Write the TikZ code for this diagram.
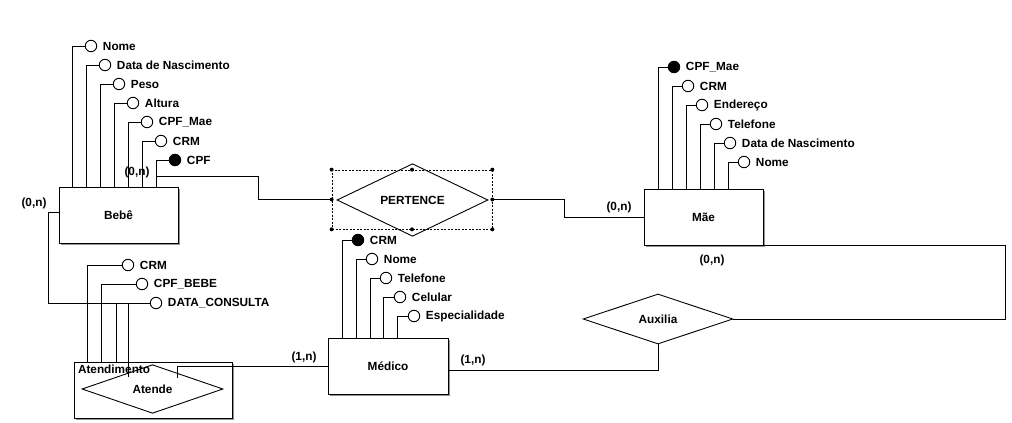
\documentclass[tikz,border=0pt]{standalone}
\usepackage{fontspec}
\setmainfont{Liberation Sans}
\usetikzlibrary{positioning,shapes.geometric,shadows}

\begin{document}
\begin{tikzpicture}[x=1pt,y=-1pt,line width=0.9pt,on grid,
  font=\fontsize{11.8}{13}\selectfont\bfseries,
  label distance=2pt,
  myentity/.style={draw,rectangle,fill=white,minimum width=119pt,minimum height=56pt,inner sep=0pt,
    drop shadow={shadow xshift=2pt,shadow yshift=-2pt,fill=gray!85,opacity=1}},
  myrel/.style={draw,diamond,fill=white,inner sep=0pt,minimum width=150pt,minimum height=50pt},
  myattr/.style={draw,circle,fill=white,inner sep=0pt,minimum size=11.5pt},
  mykey/.style={myattr,fill=black},
  mycard/.style={inner sep=0pt},
 ]
\useasboundingbox (0,0) rectangle (1012,423);

% entidades
\node[myentity] (B) at (118.5,215) {Bebê};
\node[myentity] (M) at (703.5,217) {Mãe};
\node[myentity,minimum width=120pt] (Med) at (388,366) {Médico};
\node[myentity,minimum width=158pt] (At) at (153,390) {};

% relacionamentos
\node[myrel,minimum width=151pt] (P) at (412.5,200) {PERTENCE};
\node[draw,dash pattern=on 2pt off 1.5pt,line width=0.7pt,minimum width=160pt,minimum height=59pt,inner sep=0pt] (S) at (412,199.5) {};
\fill (S.north west) circle (2pt) (S.north) circle (2pt) (S.north east) circle (2pt)
 (S.east) circle (2pt) (S.south east) circle (2pt) (S.south) circle (2pt)
 (S.south west) circle (2pt) (S.west) circle (2pt);
\node[myrel] (Aux) at (658,319) {Auxilia};
\node[myrel,minimum width=141pt,minimum height=40pt] (Ate) at (152.5,389) {Atende};
\node[mycard,anchor=north west] (AtL) at ([xshift=4pt,yshift=-3pt]At.north west) {Atendimento};

% atributos Bebe
\node[myattr,label=right:Nome] (b1) at (91,46) {};
\node[myattr,label=right:Data de Nascimento,below right=19pt and 14pt of b1] (b2) {};
\node[myattr,label=right:Peso,below right=19pt and 14pt of b2] (b3) {};
\node[myattr,label=right:Altura,below right=19pt and 14pt of b3] (b4) {};
\node[myattr,label=right:CPF\_Mae,below right=19pt and 14pt of b4] (b5) {};
\node[myattr,label=right:CRM,below right=19pt and 14pt of b5] (b6) {};
\node[mykey,label=right:CPF,below right=19pt and 14pt of b6] (b7) {};

\draw (b1.west) -| ([xshift=14pt]B.north west);
\draw (b2.west) -| ([xshift=28pt]B.north west);
\draw (b3.west) -| ([xshift=42pt]B.north west);
\draw (b4.west) -| ([xshift=56pt]B.north west);
\draw (b5.west) -| ([xshift=70pt]B.north west);
\draw (b6.west) -| ([xshift=84pt]B.north west);
\draw (b7.west) -| ([xshift=98pt]B.north west);

% atributos Mae
\node[mykey,label=right:CPF\_Mae] (m1) at (674,67) {};
\node[myattr,label=right:CRM,below right=19pt and 14pt of m1] (m2) {};
\node[myattr,label=right:Endereço,below right=19pt and 14pt of m2] (m3) {};
\node[myattr,label=right:Telefone,below right=19pt and 14pt of m3] (m4) {};
\node[myattr,label=right:Data de Nascimento,below right=19pt and 14pt of m4] (m5) {};
\node[myattr,label=right:Nome,below right=19pt and 14pt of m5] (m6) {};

\draw (m1.west) -| ([xshift=15pt]M.north west);
\draw (m2.west) -| ([xshift=29pt]M.north west);
\draw (m3.west) -| ([xshift=43pt]M.north west);
\draw (m4.west) -| ([xshift=57pt]M.north west);
\draw (m5.west) -| ([xshift=71pt]M.north west);
\draw (m6.west) -| ([xshift=85pt]M.north west);

% atributos Medico
\node[mykey,label=right:CRM] (d1) at (358,240) {};
\node[myattr,label=right:Nome,below right=19pt and 14pt of d1] (d2) {};
\node[myattr,label=right:Telefone,below right=19pt and 14pt of d2] (d3) {};
\node[myattr,label=right:Celular,below right=19pt and 14pt of d3] (d4) {};
\node[myattr,label=right:Especialidade,below right=19pt and 14pt of d4] (d5) {};

\draw (d1.west) -| ([xshift=15pt]Med.north west);
\draw (d2.west) -| ([xshift=29pt]Med.north west);
\draw (d3.west) -| ([xshift=43pt]Med.north west);
\draw (d4.west) -| ([xshift=56pt]Med.north west);
\draw (d5.west) -| ([xshift=70pt]Med.north west);

% atributos Atendimento
\node[myattr,label=right:CRM] (a1) at (128,265) {};
\node[myattr,label=right:CPF\_BEBE,below right=19pt and 14pt of a1] (a2) {};
\node[myattr,label=right:DATA\_CONSULTA,below right=19pt and 14pt of a2] (a3) {};

\draw (a1.west) -| ([xshift=14pt]At.north west);
\draw (a2.west) -| ([xshift=28pt]At.north west);
\draw (a3.west) -| ([xshift=43pt]At.north west);
\draw (a3.west) -| ([xshift=55pt,yshift=-15pt]At.north west);

% ligacoes
\draw ([xshift=98pt]B.north west) -- ++(0,-10) -- ++(102,0) |- (S.west);
\draw (M.west) -- ++(-79,0) |- (S.east);
\draw ([yshift=3pt]B.west) -- ++(-10,0) |- (a3.west);
\draw ([xshift=24.5pt,yshift=11pt]Ate.center) |- (Med.west);
\draw ([yshift=-4pt]Med.east) -| (Aux.south);
\draw (Aux.east) -- ++(272,0) |- (M.south east);

% cardinalidades
\node[mycard] (c1) at (137,172) {(0,n)};
\node[mycard] (c2) at (34,203) {(0,n)};
\node[mycard] (c3) at (619,207) {(0,n)};
\node[mycard] (c4) at (712,260) {(0,n)};
\node[mycard] (c5) at (304,357) {(1,n)};
\node[mycard] (c6) at (473,360) {(1,n)};

\end{tikzpicture}
\end{document}
